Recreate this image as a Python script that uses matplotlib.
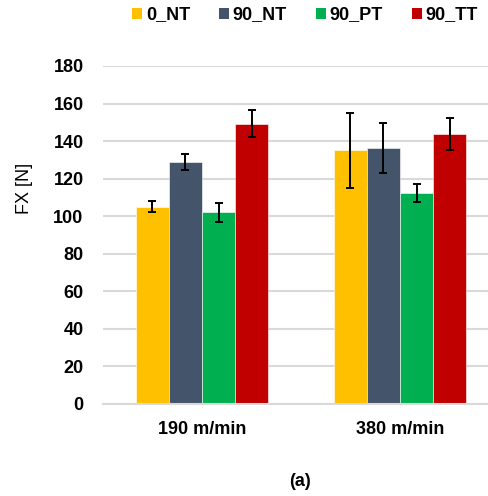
import numpy as np
import matplotlib.pyplot as plt
from matplotlib.patches import Patch

plt.rcParams['font.family'] = ['Liberation Sans', 'DejaVu Sans']

speeds = ['190 m/min', '380 m/min']
series = ['0_NT', '90_NT', '90_PT', '90_TT']
colors = ['#FFC000', '#44546A', '#00B050', '#C00000']
fx_mean = [
    [105.0, 135.2],
    [128.9, 136.3],
    [102.0, 112.3],
    [149.3, 143.8],
]
fx_err = [
    [3.0, 20.0],
    [4.5, 13.5],
    [5.3, 4.6],
    [7.3, 8.5],
]

fig = plt.figure(figsize=(4.88, 4.96), dpi=100)
ax = fig.add_axes([103 / 488, 1 - 404 / 496, 396 / 488, 338 / 496])

x = np.arange(len(speeds))
w = 0.167
for i, name in enumerate(series):
    ax.bar(x + (i - 1.5) * w, fx_mean[i], w, color=colors[i], edgecolor='white',
           linewidth=0.4, zorder=2)
    ax.errorbar(x + (i - 1.5) * w, fx_mean[i], yerr=fx_err[i], fmt='none',
                ecolor='black', elinewidth=1.4, capsize=3, capthick=1.4, zorder=3)

ax.set_xlim(-0.5, 1.5)
ax.set_ylim(0, 180)
ax.set_yticks(np.arange(0, 181, 20))
ax.set_xticks(x)
ax.set_xticklabels(speeds, fontsize=13, fontweight='bold')
for lbl in ax.get_yticklabels():
    lbl.set_fontsize(13)
    lbl.set_fontweight('bold')
ax.tick_params(axis='x', length=0, pad=12)
ax.tick_params(axis='y', length=0, pad=14)
ax.grid(axis='y', color='#d9d9d9', linewidth=1.5, zorder=0)
for s in ['top', 'right', 'left']:
    ax.spines[s].set_visible(False)
ax.spines['bottom'].set_color('#d9d9d9')
ax.spines['bottom'].set_linewidth(1.5)
ax.set_ylabel('FX [N]', fontsize=13, va='center')
ax.yaxis.set_label_coords(-0.197, 0.639)

handles = [Patch(facecolor=c, label=s) for c, s in zip(colors, series)]
fig.legend(handles=handles, loc='center', bbox_to_anchor=(305 / 488, 1 - 15 / 496),
           ncol=4, frameon=False, handlelength=0.55, handleheight=0.55,
           handletextpad=0.2, columnspacing=1.6,
           prop={'size': 13, 'weight': 'bold'})

fig.text(300 / 488, 1 - 481 / 496, '(a)', ha='center', va='center',
         fontsize=13, fontweight='bold')

fig.savefig('out.png', dpi=100)
